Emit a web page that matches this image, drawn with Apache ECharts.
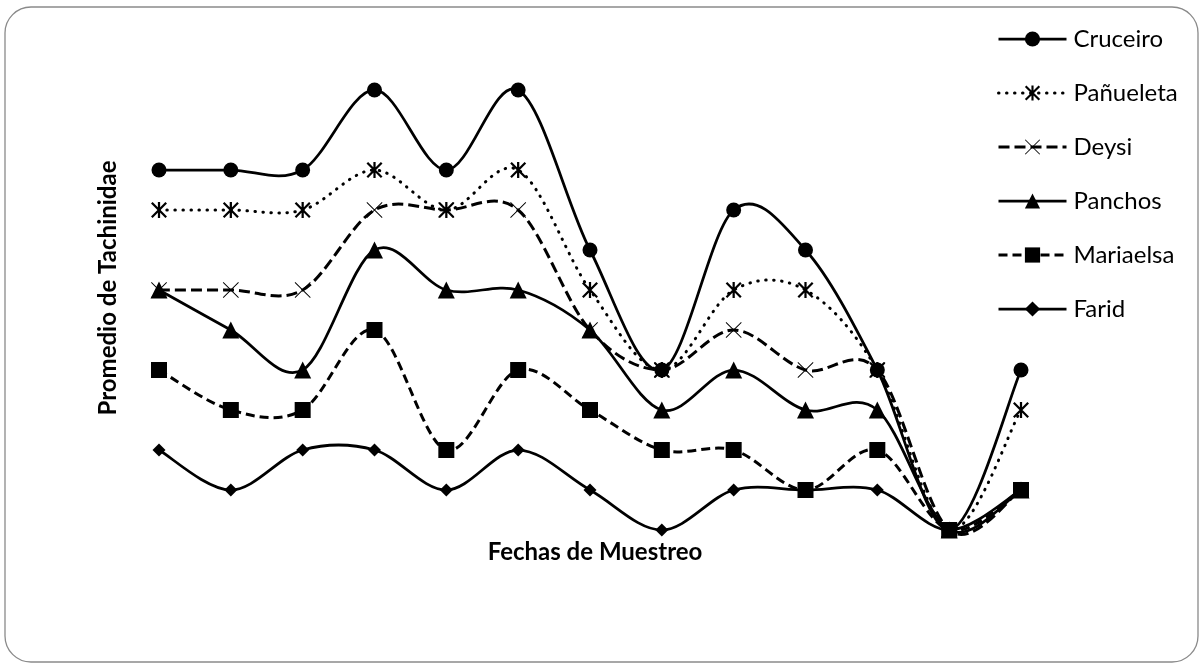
<!DOCTYPE html>
<html>
<head>
<meta charset="utf-8">
<script src="https://cdn.jsdelivr.net/npm/echarts@6/dist/echarts.min.js"></script>
<style>
  html, body { margin: 0; padding: 0; background: #fff; }
  #chart { width: 1202px; height: 666px; }
</style>
</head>
<body>
<div id="chart"></div>
<script>
// Sampling dates (13 samples) and average Tachinidae counts per site
const fechas = ['1', '2', '3', '4', '5', '6', '7', '8', '9', '10', '11', '12', '13'];
const cruceiro  = [9, 9, 9, 11, 9, 11, 7, 4, 8, 7, 4, 0, 4];
const panueleta = [8, 8, 8, 9, 8, 9, 6, 4, 6, 6, 4, 0, 3];
const deysi     = [6, 6, 6, 8, 8, 8, 5, 4, 5, 4, 4, 0, 1];
const panchos   = [6, 5, 4, 7, 6, 6, 5, 3, 4, 3, 3, 0, 1];
const mariaelsa = [4, 3, 3, 5, 2, 4, 3, 2, 2, 1, 2, 0, 1];
const farid     = [2, 1, 2, 2, 1, 2, 1, 0, 1, 1, 1, 0, 1];

const FONT = 'Lato, "Open Sans", sans-serif';

// Marker shapes: six-armed asterisk and a thin cross
const ASTERISK = 'path://M43 0L57 0L57 100L43 100Z' +
  'M10 0L100 90L90 100L0 10Z' +
  'M90 0L100 10L10 100L0 90Z';
const THIN_X = 'path://M4 0L100 96L96 100L0 4Z M96 0L100 4L4 100L0 96Z';

// Stroke styles of each site's line
const STYLES = {
  solid:  { width: 2.75, type: 'solid', cap: 'butt' },
  dotted: { width: 3, type: [0.5, 7.5], cap: 'round' },
  dashA:  { width: 3, type: [11, 5], cap: 'butt' },
  dashB:  { width: 3, type: [9, 5], cap: 'butt' }
};

// Smoothed curve through the points (cubic Bezier, tangents from neighbouring points)
function curve(values, ls) {
  return {
    type: 'custom',
    silent: true,
    z: 2,
    data: values.map(function (v, i) { return [i, v]; }),
    encode: { x: 0, y: 1 },
    renderItem: function (params, api) {
      if (params.dataIndex !== 0) return;
      const p = values.map(function (v, i) { return api.coord([i, v]); });
      let d = 'M' + p[0][0] + ' ' + p[0][1];
      for (let i = 0; i < p.length - 1; i++) {
        const a = p[i - 1] || p[i], b = p[i], c = p[i + 1], e = p[i + 2] || p[i + 1];
        const c1x = b[0] + (c[0] - a[0]) / 6, c1y = b[1] + (c[1] - a[1]) / 6;
        const c2x = c[0] - (e[0] - b[0]) / 6, c2y = c[1] - (e[1] - b[1]) / 6;
        d += ' C' + c1x + ' ' + c1y + ' ' + c2x + ' ' + c2y + ' ' + c[0] + ' ' + c[1];
      }
      return {
        type: 'path',
        shape: { pathData: d },
        style: {
          fill: 'none',
          stroke: '#000',
          lineWidth: ls.width,
          lineDash: Array.isArray(ls.type) ? ls.type : null,
          lineCap: ls.cap
        }
      };
    }
  };
}

// Markers (and legend entry) of a site
function markers(name, values, symbol, size) {
  return {
    name: name,
    type: 'line',
    data: values,
    symbol: symbol,
    symbolSize: size,
    showAllSymbol: true,
    itemStyle: { color: '#000' },
    lineStyle: { color: '#000', opacity: 0 },
    emphasis: { disabled: true },
    z: 3
  };
}

function legendItem(name, ls) {
  return { name: name, lineStyle: { color: '#000', opacity: 1, width: ls.width, type: ls.type, cap: ls.cap } };
}

const sites = [
  { name: 'Cruceiro',  values: cruceiro,  symbol: 'circle',   size: 15, ls: STYLES.solid },
  { name: 'Pañueleta', values: panueleta, symbol: ASTERISK,   size: 16, ls: STYLES.dotted },
  { name: 'Deysi',     values: deysi,     symbol: THIN_X,     size: 16, ls: STYLES.dashA },
  { name: 'Panchos',   values: panchos,   symbol: 'triangle', size: 17, ls: STYLES.solid },
  { name: 'Mariaelsa', values: mariaelsa, symbol: 'rect',     size: 16, ls: STYLES.dashB },
  { name: 'Farid',     values: farid,     symbol: 'diamond',  size: 13, ls: STYLES.solid }
];

const series = [];
sites.forEach(function (s) {
  series.push(curve(s.values, s.ls));
  series.push(markers(s.name, s.values, s.symbol, s.size));
});

const chart = echarts.init(document.getElementById('chart'), null, { renderer: 'canvas' });
chart.setOption({
  animation: false,
  backgroundColor: '#fff',
  grid: { left: 159, right: 181, top: 90, bottom: 136 },
  xAxis: {
    type: 'category',
    data: fechas,
    boundaryGap: false,
    axisLine: { show: false },
    axisTick: { show: false },
    axisLabel: { show: false },
    splitLine: { show: false }
  },
  yAxis: {
    type: 'value',
    min: 0,
    max: 11,
    interval: 1,
    axisLine: { show: false },
    axisTick: { show: false },
    axisLabel: { show: false },
    splitLine: { show: false }
  },
  legend: {
    orient: 'vertical',
    left: 997,
    top: 27,
    padding: 0,
    itemWidth: 68,
    itemHeight: 19,
    itemGap: 30,
    selectedMode: false,
    textStyle: { fontFamily: FONT, fontSize: 24, color: '#000', padding: [0, 0, 0, 2] },
    data: sites.map(function (s) { return legendItem(s.name, s.ls); })
  },
  graphic: [
    {
      type: 'rect',
      shape: { x: 5, y: 7, width: 1193, height: 655, r: 26 },
      style: { fill: 'none', stroke: '#8a8a8a', lineWidth: 1.3 },
      silent: true,
      z: 0
    },
    {
      type: 'text',
      x: 595, y: 552,
      style: {
        text: 'Fechas de Muestreo',
        font: 'bold 24px ' + FONT,
        fill: '#000',
        align: 'center',
        verticalAlign: 'middle'
      }
    },
    {
      type: 'text',
      x: 108, y: 288,
      rotation: Math.PI / 2,
      style: {
        text: 'Promedio de Tachinidae',
        font: 'bold 24px ' + FONT,
        fill: '#000',
        align: 'center',
        verticalAlign: 'middle'
      }
    }
  ],
  series: series
});
</script>
</body>
</html>
